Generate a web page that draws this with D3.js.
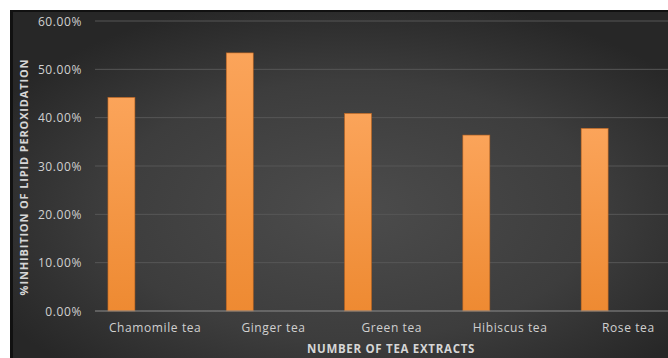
<!DOCTYPE html>
<html><head><meta charset="utf-8">
<script src="https://cdn.jsdelivr.net/npm/d3@7"></script>
<style>html,body{margin:0;padding:0;background:#fff;overflow:hidden}</style>
</head><body>
<svg id="chart" width="668" height="358"></svg>
<script>
const categories = ["Chamomile tea", "Ginger tea", "Green tea", "Hibiscus tea", "Rose tea"];
const values = [0.442, 0.534, 0.409, 0.364, 0.378];
const yTicks = [0, 0.1, 0.2, 0.3, 0.4, 0.5, 0.6];
const yTitle = "%INHIBITION OF LIPID PEROXIDATION";
const xTitle = "NUMBER OF TEA EXTRACTS";

const svg = d3.select("#chart");
const defs = svg.append("defs");
const bg = defs.append("radialGradient").attr("id","bg")
  .attr("cx","0.5").attr("cy","0.55").attr("r","0.6");
bg.append("stop").attr("offset","0").attr("stop-color","#4c4c4c");
bg.append("stop").attr("offset","0.6").attr("stop-color","#3d3d3d");
bg.append("stop").attr("offset","1").attr("stop-color","#272727");
const bar = defs.append("linearGradient").attr("id","bar").attr("x1",0).attr("y1",0).attr("x2",0).attr("y2",1);
bar.append("stop").attr("offset","0").attr("stop-color","#fba45a");
bar.append("stop").attr("offset","1").attr("stop-color","#ee8a32");

// frame
svg.append("rect").attr("x",10).attr("y",10).attr("width",680).attr("height",360).attr("fill","#111");
svg.append("rect").attr("x",13).attr("y",12).attr("width",680).attr("height",360).attr("fill","url(#bg)");

const x = d3.scaleBand().domain(categories).range([96, 687.5]).padding(0);
const y = d3.scaleLinear().domain([0, 0.6]).range([311, 21]);

// gridlines
svg.append("g").selectAll("line").data(yTicks.filter(d => d > 0)).join("line")
  .attr("x1", 95).attr("x2", 668).attr("y1", d => y(d)).attr("y2", d => y(d))
  .attr("stroke", "#575757").attr("stroke-width", 1);

// y axis labels
const yAxis = d3.axisLeft(y).tickValues(yTicks).tickFormat(d3.format(".2%")).tickSize(0).tickPadding(0);
const ya = svg.append("g").attr("transform", "translate(82,0)").call(yAxis);
ya.select(".domain").remove();
ya.selectAll("text").attr("fill", "#d0d0d0").style("font-family", "'Open Sans', sans-serif")
  .style("font-size", "12px").style("letter-spacing", "0.6px").attr("dy", "0.35em");

// bars
const bw = x.bandwidth();
svg.append("g").selectAll("rect").data(categories).join("rect")
  .attr("x", (d) => x(d) + bw * 0.101)
  .attr("width", bw * 0.228)
  .attr("y", (d, i) => y(values[i]))
  .attr("height", (d, i) => y(0) - y(values[i]))
  .attr("fill", "url(#bar)")
  .attr("stroke", "#b8621f").attr("stroke-width", 0.6);

// baseline
svg.append("line").attr("x1", 95).attr("x2", 668).attr("y1", y(0)).attr("y2", y(0))
  .attr("stroke", "#8c8c8c").attr("stroke-width", 1.2);

// x axis labels
const xAxis = d3.axisBottom(x).tickSize(0).tickPadding(0);
const xa = svg.append("g").attr("transform", `translate(0,${y(0) + 17})`).call(xAxis);
xa.select(".domain").remove();
xa.selectAll("text").attr("fill", "#d0d0d0").attr("dy", "0.35em")
  .style("font-family", "'Open Sans', sans-serif").style("font-size", "12px").style("letter-spacing", "0.6px");

// titles
svg.append("text").attr("x", 391).attr("y", 349).attr("text-anchor", "middle").attr("dy", "0.35em")
  .attr("fill", "#d6d6d6").style("font-family", "'Open Sans', sans-serif").style("font-weight", "bold")
  .style("font-size", "11.5px").style("letter-spacing", "0.7px").text(xTitle);
svg.append("text").attr("transform", "translate(24,177) rotate(-90)").attr("text-anchor", "middle").attr("dy", "0.35em")
  .attr("fill", "#d6d6d6").style("font-family", "'Open Sans', sans-serif").style("font-weight", "bold")
  .style("font-size", "11px").style("letter-spacing", "0.85px").text(yTitle);
</script>
</body></html>
